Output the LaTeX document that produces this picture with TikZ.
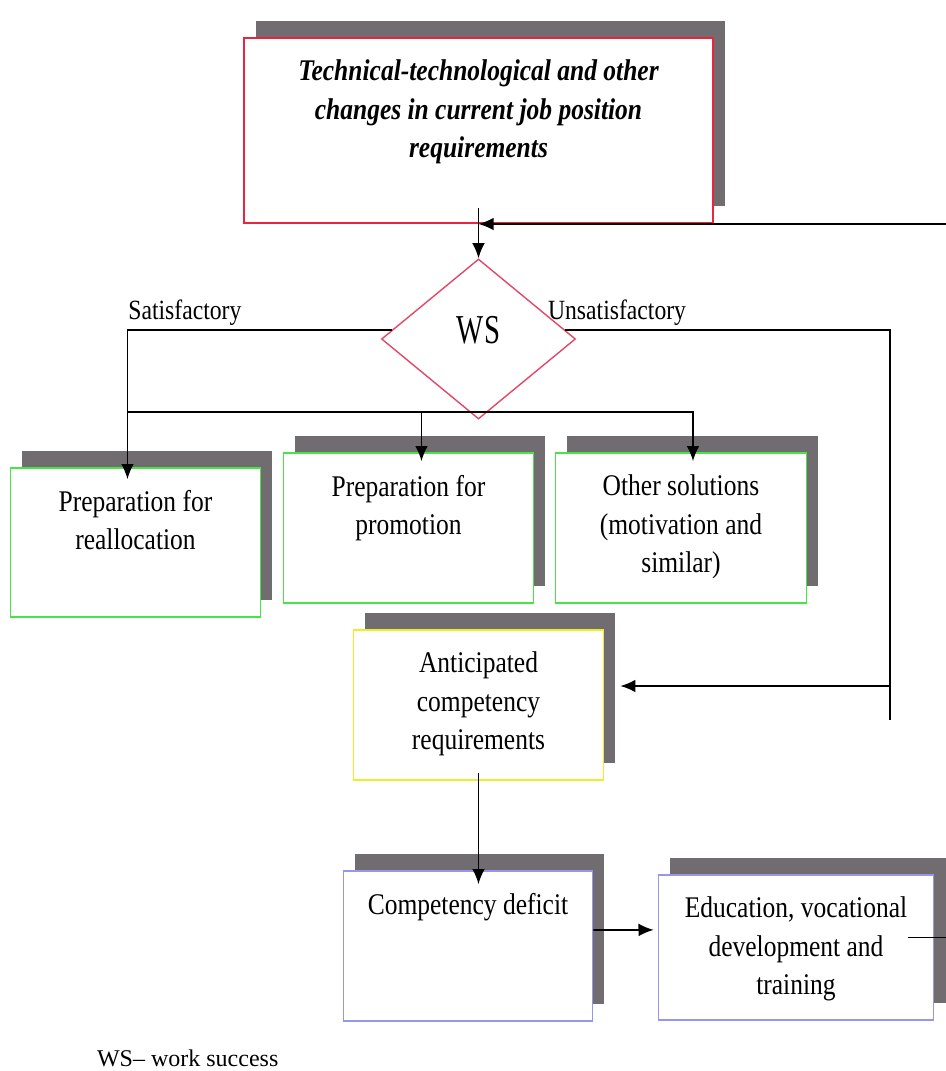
\documentclass[tikz,border=0pt]{standalone}
\usepackage{fontspec}
\setmainfont{Liberation Serif}[FakeStretch=0.85]
\newfontfamily\wsfont{Liberation Serif}[FakeStretch=0.7]
\newfontfamily\notefont{Liberation Serif}
\usetikzlibrary{arrows.meta,shapes.geometric,shadows}
\definecolor{titlered}{RGB}{232,36,64}
\definecolor{wsred}{RGB}{226,72,104}
\definecolor{boxgreen}{RGB}{70,228,70}
\definecolor{boxyellow}{RGB}{238,238,40}
\definecolor{boxblue}{RGB}{150,150,238}
\definecolor{shadowgray}{RGB}{112,108,112}
\newcommand{\toppad}{0.55cm}
\newcommand{\boxtext}[3]{\parbox[c][#2][t]{#1}{\centering\vspace*{\toppad}#3}}
\newcommand{\boxfont}{\fontsize{21.34}{27.3}\selectfont}
\tikzset{
    block/.style = {draw, fill=white, line width=0.04cm, inner sep=0pt,
        drop shadow={opacity=1, fill=shadowgray, shadow xshift=0.3cm, shadow yshift=0.42cm}},
    decision/.style = {diamond, draw=wsred, fill=white, line width=0.035cm, inner sep=0pt,
        minimum width=4.85cm, minimum height=4cm, text depth=0.45cm},
    link/.style = {draw, line width=0.045cm},
    arrow/.style = {link, -{Latex[length=0.38cm,width=0.32cm]}},
    branch/.style = {font=\fontsize{19.8}{24}\selectfont, inner xsep=0pt, inner ysep=0.08cm, anchor=south west}
}

\begin{document}
\begin{tikzpicture}[node distance=2cm, font=\boxfont]
    \useasboundingbox (-11.9625,3.2625) rectangle (11.6875,-23.5125);
    \node [block, draw=titlered, line width=0.05cm, font=\boxfont\bfseries\itshape] (title) {\boxtext{11.725cm}{4.625cm}{Technical-technological and other\\changes in current job position\\requirements}};
    \node [decision, below of=title, node distance=5.2125cm, font=\wsfont\fontsize{29.2}{30}\selectfont] (ws) {WS};
    \node [block, draw=boxgreen, below of=ws, node distance=4.725cm, xshift=-1.75cm] (promo) {\boxtext{6.25cm}{3.75cm}{Preparation for\\promotion}};
    \node [block, draw=boxgreen, right of=promo, node distance=6.8125cm] (other) {\boxtext{6.275cm}{3.75cm}{Other solutions\\(motivation and\\similar)}};
    \node [block, draw=boxgreen, left of=promo, node distance=6.825cm, yshift=-0.3625cm] (realloc) {\boxtext{6.25cm}{3.725cm}{Preparation for\\reallocation}};
    \node [block, draw=boxyellow, below of=ws, node distance=9.15cm] (ant) {\boxtext{6.25cm}{3.75cm}{Anticipated\\competency\\requirements}};
    \node [block, draw=boxblue, below of=ant, node distance=6.025cm, xshift=-0.2625cm] (deficit) {\boxtext{6.225cm}{3.75cm}{Competency deficit}};
    \node [block, draw=boxblue, right of=deficit, node distance=8.2cm, yshift=-0.0375cm] (edu) {\boxtext{6.875cm}{3.625cm}{Education, vocational\\development and\\training}};
    \node [anchor=west, font=\notefont\fontsize{17.07}{20}\selectfont] (note) at (-9.66,-23.1875) {WS– work success};
    % junction points
    \coordinate (fork) at ([xshift=-8.775cm,yshift=0.2cm]ws.south);
    \coordinate (busend) at ([xshift=7.15cm,yshift=-0.375cm]ant.east);
    \coordinate (loop) at ([xshift=11.725cm]title.south);
    \coordinate (antin) at ([xshift=0.4cm,yshift=0.475cm]ant.east);
    \coordinate (reallocin) at ([xshift=-0.2cm,yshift=-0.3cm]realloc.north);
    \coordinate (promoin) at ([xshift=0.325cm,yshift=-0.225cm]promo.north);
    \coordinate (otherin) at ([xshift=0.3cm,yshift=-0.225cm]other.north);
    \coordinate (deficitin) at ([xshift=0.2625cm,yshift=-0.35cm]deficit.north);
    % connectors
    \draw[arrow] ([yshift=0.4cm]title.south) -- (ws.north);
    \draw[arrow] (ws.174) -| node[branch, pos=0.5] {Satisfactory} (reallocin);
    \draw[arrow] (fork) -| (otherin);
    \draw[arrow] (fork -| promoin) -- (promoin);
    \draw[link] (ws.6) -| node[branch, pos=0, xshift=-0.45cm] {Unsatisfactory} (busend);
    \draw[arrow] (antin -| busend) -- (antin);
    \draw[arrow] ([yshift=0.2cm]ant.south) -- (deficitin);
    \draw[arrow] ([yshift=0.4cm]deficit.east) -- ([yshift=0.44cm,xshift=-0.1cm]edu.west);
    \draw[arrow] ([xshift=-0.65cm,yshift=0.25cm]edu.east) -| (loop) -- (title.south);
\end{tikzpicture}
\end{document}
